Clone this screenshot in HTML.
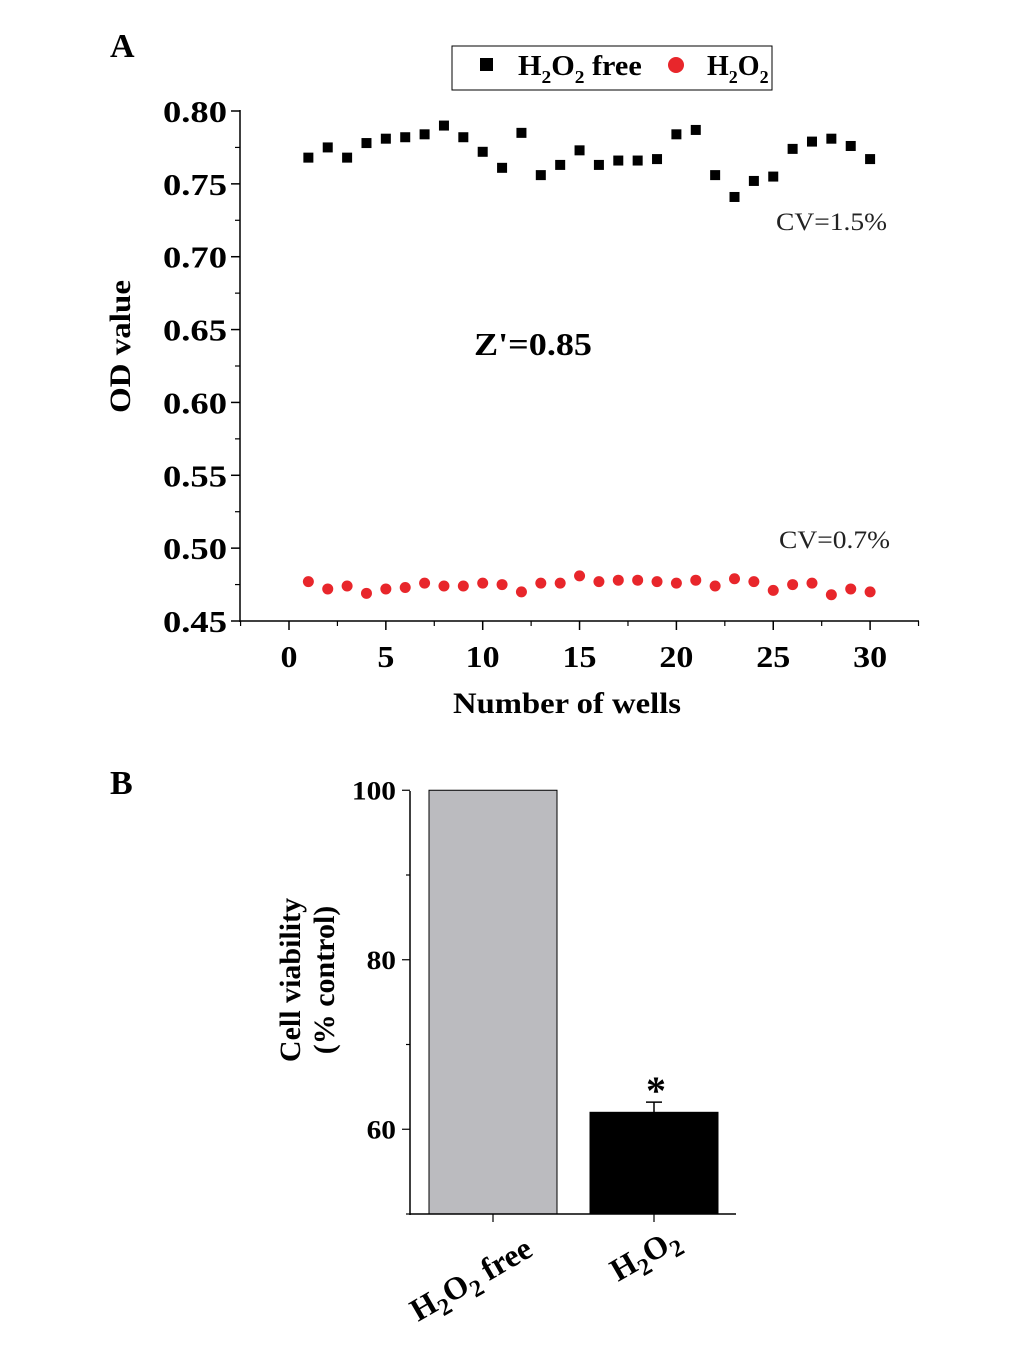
<!DOCTYPE html>
<html><head><meta charset="utf-8"><style>
body{margin:0;background:#fff;}
svg text{font-family:"Liberation Serif",serif;}
</style></head><body>
<svg id="s" width="1033" height="1343" xmlns="http://www.w3.org/2000/svg">
<text x="110" y="57" font-size="34" font-weight="bold">A</text>
<text x="110" y="794" font-size="34" font-weight="bold">B</text>
<g id="a"></g>
<g id="b"></g>
</svg>
<script>
const wells=[1,2,3,4,5,6,7,8,9,10,11,12,13,14,15,16,17,18,19,20,21,22,23,24,25,26,27,28,29,30];
const freeVals=[0.768,0.775,0.768,0.778,0.781,0.782,0.784,0.790,0.782,0.772,0.761,0.785,0.756,0.763,0.773,0.763,0.766,0.766,0.767,0.784,0.787,0.756,0.741,0.752,0.755,0.774,0.779,0.781,0.776,0.767];
const h2o2Vals=[0.477,0.472,0.474,0.469,0.472,0.473,0.476,0.474,0.474,0.476,0.475,0.470,0.476,0.476,0.481,0.477,0.478,0.478,0.477,0.476,0.478,0.474,0.479,0.477,0.471,0.475,0.476,0.468,0.472,0.470];
const yTicksA=[0.45,0.50,0.55,0.60,0.65,0.70,0.75,0.80];
const xTicksA=[0,5,10,15,20,25,30];
const barCats=["free","h2o2"];
const barVals=[100,62];
const barErr=[0,1.2];
const yTicksB=[60,80,100];
const NS="http://www.w3.org/2000/svg";
function mk(p,t,a,txt){const e=document.createElementNS(NS,t);for(const k in a)e.setAttribute(k,a[k]);if(txt!=null)e.textContent=txt;p.appendChild(e);return e;}
const A=document.getElementById('a');
const xA=v=>289+v*19.37, yA=v=>621-(v-0.45)/0.35*510;
let e;
e=mk(A,'line',{x1:240,y1:110,x2:240,y2:622,stroke:'#000','stroke-width':1.5});

e=mk(A,'line',{x1:240,y1:621,x2:919,y2:621,stroke:'#000','stroke-width':1.5});

for(let i=0;i<yTicksA.length;i++){const v=yTicksA[i];const y=yA(v);
 mk(A,'line',{x1:231,y1:y,x2:240,y2:y,stroke:'#000','stroke-width':1.5});
 if(i<yTicksA.length-1)mk(A,'line',{x1:235,y1:yA(v+0.025),x2:240,y2:yA(v+0.025),stroke:'#000','stroke-width':1.2});
 e=mk(A,'text',{x:227,y:y+11,'font-size':31,'font-weight':'bold','text-anchor':'end',textLength:64,lengthAdjust:'spacingAndGlyphs'},v.toFixed(2));
 }
for(const v of xTicksA){const x=xA(v);
 mk(A,'line',{x1:x,y1:621,x2:x,y2:630,stroke:'#000','stroke-width':1.5});
 mk(A,'line',{x1:xA(v+2.5),y1:621,x2:xA(v+2.5),y2:626,stroke:'#000','stroke-width':1.2});
 const s=String(v);
 e=mk(A,'text',{x:x,y:667,'font-size':31,'font-weight':'bold','text-anchor':'middle',textLength:s.length*17,lengthAdjust:'spacingAndGlyphs'},s);
 }
mk(A,'line',{x1:xA(-2.5),y1:621,x2:xA(-2.5),y2:626,stroke:'#000','stroke-width':1.2});
e=mk(A,'text',{x:453,y:713,'font-size':30,'font-weight':'bold',textLength:228,lengthAdjust:'spacingAndGlyphs'},'Number of wells');

e=mk(A,'text',{x:130,y:413,'font-size':30,'font-weight':'bold',transform:'rotate(-90 130 413)',textLength:133,lengthAdjust:'spacingAndGlyphs'},'OD value');

for(let i=0;i<wells.length;i++){
 e=mk(A,'rect',{x:xA(wells[i])-5,y:yA(freeVals[i])-5,width:10,height:10,fill:'#000'});
 
 e=mk(A,'circle',{cx:xA(wells[i]),cy:yA(h2o2Vals[i]),r:5.5,fill:'#e8262b'});
 }
e=mk(A,'text',{x:776,y:230,'font-size':25,textLength:111,lengthAdjust:'spacingAndGlyphs',fill:'#222'},'CV=1.5%');
e=mk(A,'text',{x:779,y:548,'font-size':25,textLength:111,lengthAdjust:'spacingAndGlyphs',fill:'#222'},'CV=0.7%');
e=mk(A,'text',{x:474,y:355,'font-size':32,'font-weight':'bold',textLength:118,lengthAdjust:'spacingAndGlyphs'},"Z'=0.85");
const L=mk(A,'g',{});
mk(L,'rect',{x:452,y:46,width:320,height:44,fill:'none',stroke:'#000','stroke-width':1});
mk(L,'rect',{x:480,y:58,width:13,height:13,fill:'#000'});
L.insertAdjacentHTML('beforeend','<text x="518" y="75" font-size="28" font-weight="bold" transform="translate(518 0) scale(1.08 1) translate(-518 0)">H<tspan font-size="18" dy="8">2</tspan><tspan dy="-8">O</tspan><tspan font-size="18" dy="8">2</tspan><tspan dy="-8"> free</tspan></text>');
mk(L,'circle',{cx:676,cy:65,r:8,fill:'#e8262b'});
L.insertAdjacentHTML('beforeend','<text x="707" y="75" font-size="28" font-weight="bold">H<tspan font-size="18" dy="8">2</tspan><tspan dy="-8">O</tspan><tspan font-size="18" dy="8">2</tspan></text>');
// Panel B
const B=document.getElementById('b');
const yB=v=>1214-(v-50)*8.475;
const cx=[493,654];
for(let i=0;i<barCats.length;i++){
 e=mk(B,'rect',{x:cx[i]-64,y:yB(barVals[i]),width:128,height:1214-yB(barVals[i]),fill:i?'#000':'#bbbbbf',stroke:'#000','stroke-width':1});
 
 if(barErr[i]>0){const yt=yB(barVals[i]+barErr[i]);
  mk(B,'line',{x1:cx[i],y1:yt,x2:cx[i],y2:yB(barVals[i]),stroke:'#000','stroke-width':1.5});
  mk(B,'line',{x1:cx[i]-8,y1:yt,x2:cx[i]+8,y2:yt,stroke:'#000','stroke-width':1.5});
  e=mk(B,'text',{x:cx[i]+2,y:yt+2,'font-size':40,'font-weight':'bold','text-anchor':'middle'},'*');
  }
}
e=mk(B,'line',{x1:410,y1:791,x2:410,y2:1215,stroke:'#000','stroke-width':1.5});
e=mk(B,'line',{x1:410,y1:1214,x2:736,y2:1214,stroke:'#000','stroke-width':1.5});
for(let v=50;v<=100;v+=10){const y=yB(v);mk(B,'line',{x1:v%20==0?402:406,y1:y,x2:410,y2:y,stroke:'#000','stroke-width':1.2});}
for(const v of yTicksB){const s=String(v);e=mk(B,'text',{x:396,y:yB(v)+9,'font-size':26,'font-weight':'bold','text-anchor':'end',textLength:s.length*14.7,lengthAdjust:'spacingAndGlyphs'},s);
 }
for(const x of cx)mk(B,'line',{x1:x,y1:1214,x2:x,y2:1222,stroke:'#000','stroke-width':1.2});
B.insertAdjacentHTML('beforeend','<text font-size="30" font-weight="bold" text-anchor="middle" transform="translate(300 980) rotate(-90)"><tspan x="0" y="0">Cell viability</tspan><tspan x="0" y="34">(% control)</tspan></text>');
B.insertAdjacentHTML('beforeend','<text font-size="32" font-weight="bold" transform="translate(418 1322) rotate(-30)">H<tspan font-size="24" dy="8">2</tspan><tspan dy="-8">O</tspan><tspan font-size="24" dy="8">2</tspan><tspan dy="-8"> free</tspan></text>');
B.insertAdjacentHTML('beforeend','<text font-size="32" font-weight="bold" transform="translate(618 1282) rotate(-30)">H<tspan font-size="24" dy="8">2</tspan><tspan dy="-8">O</tspan><tspan font-size="24" dy="8">2</tspan></text>');
</script>
</body></html>
